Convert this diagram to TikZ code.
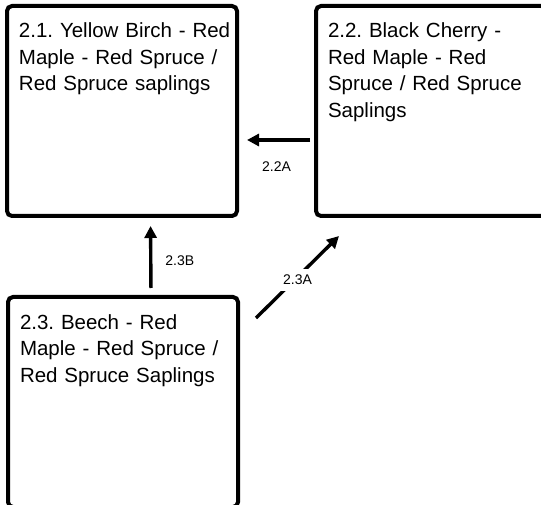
\documentclass[tikz,border=0pt]{standalone}
\usepackage{fontspec}
\setmainfont{Liberation Sans}
\usepackage{tikz}
\usetikzlibrary{arrows.meta}
\frenchspacing

\tikzset{
	unitbox/.style={draw, line width=4pt, rounded corners=5pt, anchor=north west,
		minimum width=230pt, minimum height=210pt, inner sep=12pt,
		text width=206pt, text height=20pt, text depth=166pt, align=left,
		font=\fontsize{20.5}{26.5}\selectfont},
	flow/.style={line width=3.4pt, -{Triangle[length=12pt,width=12pt]}},
	flowlabel/.style={font=\fontsize{14}{16}\selectfont, inner sep=1pt}
}

\begin{document}
\begin{tikzpicture}[x=1pt, y=1pt]
				\useasboundingbox (0,0) rectangle (541,504);
				\clip (0,0) rectangle (541,504);
				\node[unitbox] (b21) at (5,500) {\mbox{2.1. Yellow Birch - Red}\\\mbox{Maple - Red Spruce /}\\\mbox{Red Spruce saplings}};
				\node[unitbox] (b22) at (314,500) {\mbox{2.2. Black Cherry -}\\\mbox{Red Maple - Red}\\\mbox{Spruce / Red Spruce}\\\mbox{Saplings}};
				\node[unitbox] (b23) at (6,209) {\mbox{2.3. Beech - Red}\\\mbox{Maple - Red Spruce /}\\\mbox{Red Spruce Saplings}};
				\draw[flow, shorten <=4pt, shorten >=8pt] ([yshift=-29pt]b22.west) -- node[flowlabel, yshift=-27pt] {2.2A} ([yshift=-29pt]b21.east);
				\draw[flow, shorten <=7pt, shorten >=8pt] ([xshift=28pt]b23.north) -- node[flowlabel, xshift=29pt, yshift=-4pt] {2.3B} ([xshift=28.5pt]b21.south);
				\draw[flow] ([xshift=16pt, yshift=-23pt]b23.north east) -- node[flowlabel, fill=white, inner xsep=3pt, inner ysep=6pt, yshift=-3pt] {2.3A} ([xshift=25pt, yshift=-18pt]b22.south west);
			\end{tikzpicture}
\end{document}
